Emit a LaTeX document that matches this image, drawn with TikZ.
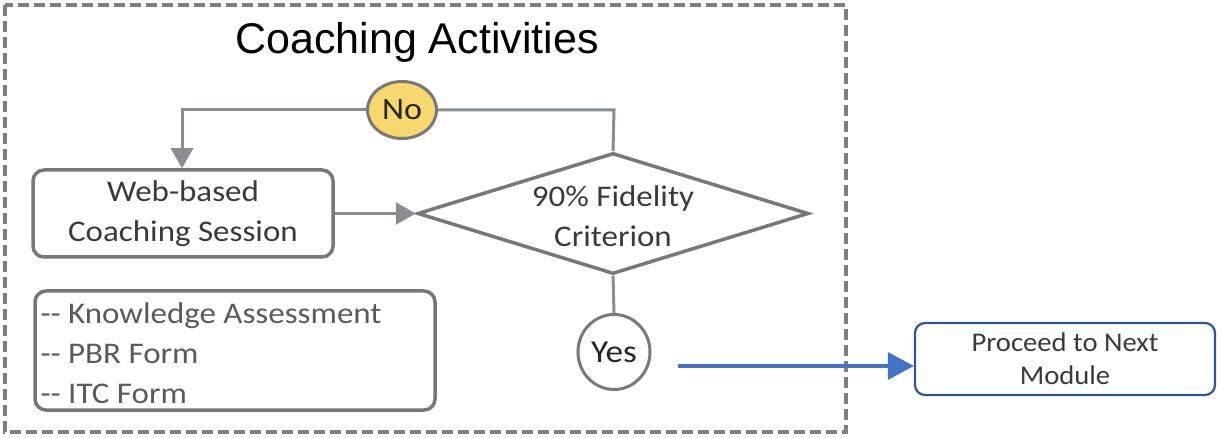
\documentclass[tikz,border=0pt]{standalone}
\usepackage{fontspec}
\setmainfont[FakeStretch=1.1]{Carlito}
\newfontfamily\proceedfont[FakeStretch=1.06]{Carlito}
\newfontfamily\titlefont{Liberation Sans}
\usetikzlibrary{arrows.meta,shapes.geometric}
\definecolor{linegray}{HTML}{8A8D92}
\definecolor{boxgray}{HTML}{787878}
\definecolor{dashgray}{HTML}{7F7F7F}
\definecolor{noyellow}{HTML}{F6D86E}
\definecolor{txtgray}{HTML}{3A3A3A}
\definecolor{darktxt}{HTML}{262626}
\definecolor{listgray}{HTML}{5A5A5A}
\definecolor{arrowblue}{HTML}{4472C4}
\definecolor{boxblue}{HTML}{2F5597}
\tikzset{
  graybox/.style={draw=boxgray, line width=3.5pt, rounded corners=11pt, inner sep=0pt},
  grayline/.style={draw=linegray, line width=3pt},
  grayarrow/.style={grayline, -{Triangle[length=20pt,width=22pt]}},
  decision/.style={diamond, draw=boxgray, line width=3.5pt, inner sep=0pt, aspect=3.2},
  answer/.style={ellipse, draw=boxgray, line width=3pt, inner sep=0pt, text=darktxt},
}
\begin{document}
\begin{tikzpicture}[x=1pt,y=-1pt]
\useasboundingbox (0,0) rectangle (1221,438);
% dashed frame
\draw[dashgray, line width=3.5pt, dash pattern=on 11pt off 5pt] (5,5) rectangle (846,432);
\node[font=\titlefont\fontsize{43}{48}\selectfont, text=black] (title) at (417,42) {Coaching Activities};
% nodes
\node[graybox, minimum width=300pt, minimum height=87pt, align=center, text=txtgray,
      font=\fontsize{30}{40}\selectfont] (web) at (183,213.5) {Web-based\\Coaching Session};
\node[decision, minimum width=391pt, minimum height=121pt] (fid) at (613,213.5) {};
\node[align=center, text=txtgray, font=\fontsize{30}{40}\selectfont] (fidtxt) at (613,216) {90\% Fidelity\\Criterion};
\node[answer, fill=noyellow, minimum width=69pt, minimum height=57pt,
      font=\fontsize{31}{36}\selectfont] (no) at (402,110) {No};
\node[answer, fill=white, minimum width=72pt, minimum height=75pt,
      font=\fontsize{32}{36}\selectfont] (yes) at (614,352) {Yes};
\node[graybox, minimum width=400pt, minimum height=119pt] (list) at (235,350.5) {};
\node[anchor=west, align=left, text=listgray, font=\fontsize{30}{40}\selectfont] (listtxt) at (37,353) {-{}- Knowledge Assessment\\-{}- PBR Form\\-{}- ITC Form};
\node[draw=boxblue, line width=2.2pt, rounded corners=10pt, minimum width=300pt, minimum height=72pt,
      align=center, text=txtgray, font=\proceedfont\fontsize{27}{33}\selectfont] (next) at (1065,359) {Proceed to Next\\Module};
% connectors
\coordinate (dropL) at (182,110);
\coordinate (riseR) at (614,110);
\coordinate (bluestart) at (678,366);
\draw[grayarrow] (no.west) -- (dropL) -- (web.north -| dropL);
\draw[grayline] (no.east) -- (riseR) -- (fid.north);
\draw[grayarrow] (web.east) -- (fid.west);
\draw[grayline] (fid.south) -- (yes.north);
\draw[arrowblue, line width=3.2pt, -{Triangle[length=26pt,width=27pt]}] (bluestart) -- (bluestart -| next.west);
\end{tikzpicture}
\end{document}
